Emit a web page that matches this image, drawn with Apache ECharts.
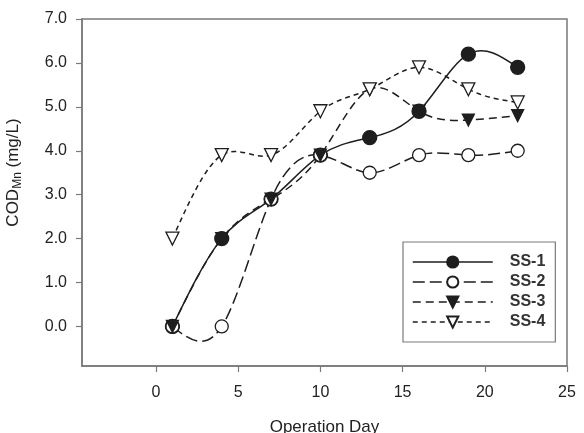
<!DOCTYPE html>
<html>
<head>
<meta charset="utf-8">
<script src="https://cdn.jsdelivr.net/npm/echarts@6/dist/echarts.min.js"></script>
<style>html,body{margin:0;padding:0;background:#fff}#c{width:584px;height:433px}</style>
</head>
<body>
<div id="c"></div>
<script>
const days = [1, 4, 7, 10, 13, 16, 19, 22];
const ss1 = [0.0, 2.0, 2.9, 3.9, 4.3, 4.9, 6.2, 5.9];
const ss2 = [0.0, 0.0, 2.9, 3.9, 3.5, 3.9, 3.9, 4.0];
const ss3 = [0.0, 2.0, 2.9, 3.9, 5.4, 4.9, 4.7, 4.8];
const ss4 = [2.0, 3.9, 3.9, 4.9, 5.4, 5.9, 5.4, 5.1];
const seriesNames = ['SS-1', 'SS-2', 'SS-3', 'SS-4'];
const xTicks = [0, 5, 10, 15, 20, 25];
const yTicks = [0, 1, 2, 3, 4, 5, 6, 7];

const allVals = [ss1, ss2, ss3, ss4];
const dashes = ['solid', [12, 5], [8, 5], [5, 4]];
const symbols = ['circle', 'circle', 'triangle', 'triangle'];
const fills = ['#1e1e1e', '#fff', '#1e1e1e', '#fff'];
const rotates = [0, 0, 180, 180];
const sizes = [14, 13, 12, 13];

const pairs = vals => days.map((d, i) => [d, vals[i]]);
const ink = '#1e1e1e';
const axisGray = '#7a7a7a';
const font = 'Liberation Sans, Arial, sans-serif';

// Natural cubic spline (as SigmaPlot's spline curve), returned as SVG path in pixel space
function splinePath(xs, ys, api) {
  const n = xs.length;
  const h = [];
  for (let i = 0; i < n - 1; i++) h.push(xs[i + 1] - xs[i]);
  const a = new Array(n).fill(0), b = new Array(n).fill(1), c = new Array(n).fill(0), r = new Array(n).fill(0);
  for (let i = 1; i < n - 1; i++) {
    a[i] = h[i - 1] / 6; b[i] = (h[i - 1] + h[i]) / 3; c[i] = h[i] / 6;
    r[i] = (ys[i + 1] - ys[i]) / h[i] - (ys[i] - ys[i - 1]) / h[i - 1];
  }
  const cp = new Array(n).fill(0), rp = new Array(n).fill(0), M = new Array(n).fill(0);
  cp[0] = c[0] / b[0]; rp[0] = r[0] / b[0];
  for (let i = 1; i < n; i++) {
    const m = b[i] - a[i] * cp[i - 1];
    cp[i] = c[i] / m; rp[i] = (r[i] - a[i] * rp[i - 1]) / m;
  }
  M[n - 1] = rp[n - 1];
  for (let i = n - 2; i >= 0; i--) M[i] = rp[i] - cp[i] * M[i + 1];
  const slope = (i, atEnd) => {
    const hi = h[i];
    const base = (ys[i + 1] - ys[i]) / hi;
    return atEnd ? base + hi * (M[i] + 2 * M[i + 1]) / 6 : base - hi * (2 * M[i] + M[i + 1]) / 6;
  };
  const p0 = api.coord([xs[0], ys[0]]);
  let d = 'M' + p0[0] + ' ' + p0[1];
  for (let i = 0; i < n - 1; i++) {
    const hi = h[i];
    const s0 = slope(i, false), s1 = slope(i, true);
    const c1 = api.coord([xs[i] + hi / 3, ys[i] + s0 * hi / 3]);
    const c2 = api.coord([xs[i + 1] - hi / 3, ys[i + 1] - s1 * hi / 3]);
    const p1 = api.coord([xs[i + 1], ys[i + 1]]);
    d += ' C' + c1[0] + ' ' + c1[1] + ' ' + c2[0] + ' ' + c2[1] + ' ' + p1[0] + ' ' + p1[1];
  }
  return d;
}

const curveSeries = allVals.map((vals, k) => ({
  name: 'curve' + k, type: 'custom', data: pairs(vals), silent: true, z: 2,
  renderItem: (params, api) => {
    if (params.dataIndex !== 0) return null;
    return {
      type: 'path',
      shape: {pathData: splinePath(days, vals, api)},
      style: {fill: null, stroke: ink, lineWidth: 1.5, lineDash: dashes[k] === 'solid' ? null : dashes[k]}
    };
  }
}));

const pointSeries = allVals.map((vals, k) => ({
  name: seriesNames[k], type: 'line', data: pairs(vals), z: 3,
  color: ink,
  symbol: symbols[k], symbolSize: sizes[k], symbolRotate: rotates[k], showAllSymbol: true,
  lineStyle: {color: ink, width: 1.5, type: dashes[k], opacity: 0},
  itemStyle: {color: fills[k], borderColor: ink, borderWidth: 1.3, opacity: 1},
  emphasis: {disabled: true}
}));

const chart = echarts.init(document.getElementById('c'), null, {renderer: 'canvas'});
chart.setOption({
  animation: false,
  grid: {left: 82, right: 17, top: 19, bottom: 67, show: true, borderColor: axisGray, borderWidth: 1.5,
    containLabel: false, outerBoundsMode: 'none'},
  legend: {
    orient: 'vertical', left: 403, top: 242,
    padding: [12, 10, 12, 9],
    borderColor: axisGray, borderWidth: 1.2,
    itemWidth: 80, itemHeight: 14, itemGap: 4,
    data: seriesNames.map((n, k) => ({
      name: n,
      lineStyle: {color: ink, width: 1.5, type: dashes[k], opacity: 1}
    })),
    textStyle: {fontFamily: font, fontSize: 16, fontWeight: 'bold', color: '#333', padding: [0, 0, 0, 12]}
  },
  xAxis: {
    type: 'value', min: -4.5, max: 25,
    name: 'Operation Day', nameLocation: 'middle', nameGap: 53,
    nameTextStyle: {fontFamily: font, fontSize: 17, color: '#222'},
    axisLine: {show: true, onZero: false, lineStyle: {color: axisGray, width: 1.5}},
    axisTick: {show: true, inside: false, length: 6, customValues: xTicks, lineStyle: {color: axisGray, width: 1.2}},
    axisLabel: {customValues: xTicks, margin: 19, fontFamily: font, fontSize: 16, color: '#222'},
    splitLine: {show: false}
  },
  yAxis: {
    type: 'value', min: -0.9, max: 7,
    name: '{m|COD}{s|Mn}{m| (mg/L)}', nameLocation: 'middle', nameGap: 58,
    nameTextStyle: {
      fontFamily: font, fontSize: 17, color: '#222', padding: [0, 0, 0, 40],
      rich: {m: {fontFamily: font, fontSize: 17, color: '#222'}, s: {fontFamily: font, fontSize: 12, color: '#222', padding: [9, 0, 0, 0]}}
    },
    axisLine: {show: true, onZero: false, lineStyle: {color: axisGray, width: 1.5}},
    axisTick: {show: true, inside: false, length: 6, customValues: yTicks, lineStyle: {color: axisGray, width: 1.2}},
    axisLabel: {customValues: yTicks, margin: 15, fontFamily: font, fontSize: 16, color: '#222',
      formatter: v => Number(v).toFixed(1)},
    splitLine: {show: false}
  },
  series: curveSeries.concat(pointSeries)
});
</script>
</body>
</html>
